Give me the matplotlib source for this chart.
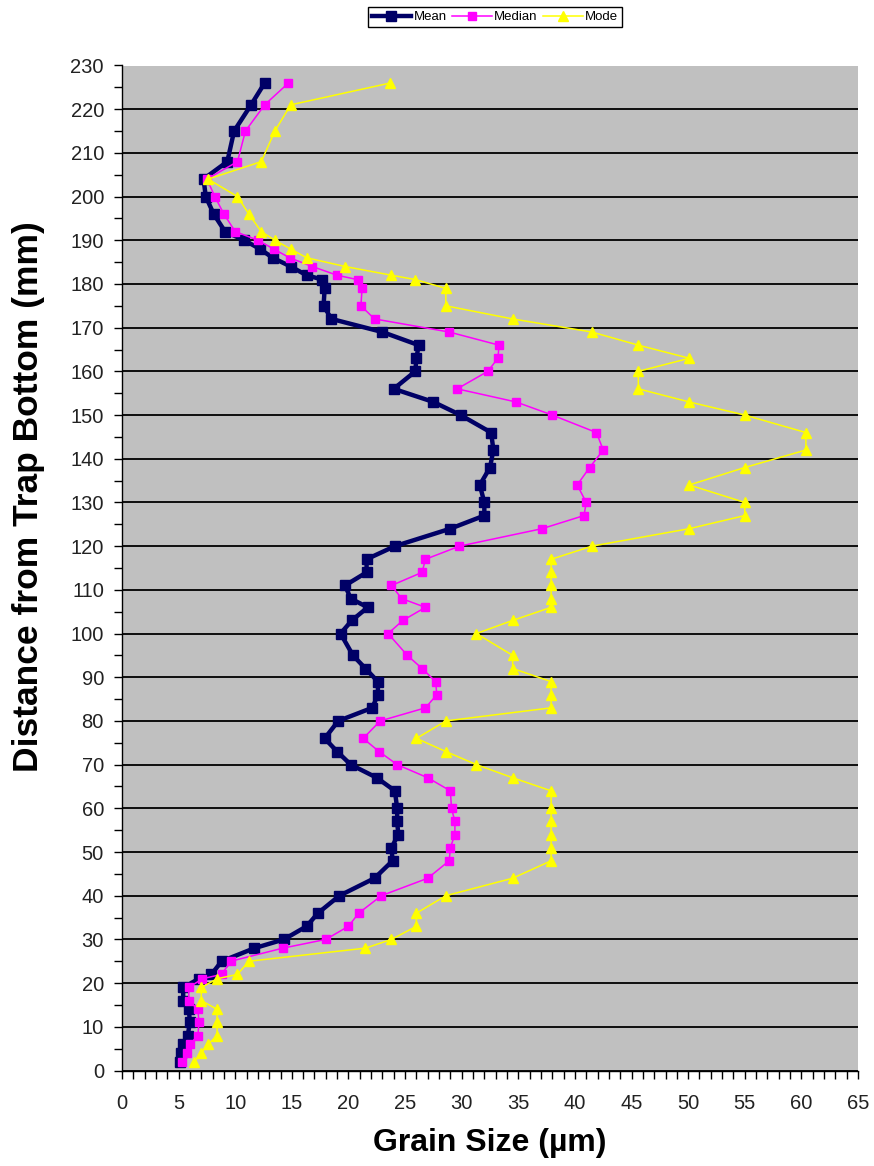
import matplotlib
matplotlib.use("Agg")
import matplotlib.pyplot as plt
from matplotlib.ticker import MultipleLocator

# Sample depths above the trap bottom (mm)
depth_mm = [2, 4, 6, 8, 11, 14, 16, 19, 21, 22, 25, 28, 30, 33, 36, 40, 44, 48,
            51, 54, 57, 60, 64, 67, 70, 73, 76, 80, 83, 86, 89, 92, 95, 100, 103,
            106, 108, 111, 114, 117, 120, 124, 127, 130, 134, 138, 142, 146, 150,
            153, 156, 160, 163, 166, 169, 172, 175, 179, 181, 182, 184, 186, 188,
            190, 192, 196, 200, 204, 208, 215, 221, 226]

# Grain size statistics (µm) for each depth
mean_um = [5.1, 5.2, 5.4, 5.8, 6.0, 5.9, 5.4, 5.4, 6.8, 7.9, 8.8, 11.7, 14.3,
           16.3, 17.3, 19.2, 22.3, 23.9, 23.8, 24.4, 24.3, 24.3, 24.1, 22.5,
           20.2, 19.0, 17.9, 19.1, 22.1, 22.6, 22.6, 21.5, 20.4, 19.3, 20.3,
           21.7, 20.2, 19.7, 21.6, 21.6, 24.1, 29.0, 32.0, 32.0, 31.6, 32.5,
           32.8, 32.6, 29.9, 27.5, 24.0, 25.9, 26.0, 26.2, 23.0, 18.5, 17.8,
           17.9, 17.7, 16.3, 14.9, 13.3, 12.2, 10.8, 9.1, 8.1, 7.4, 7.2, 9.3,
           9.9, 11.4, 12.6]

median_um = [5.3, 5.7, 6.0, 6.7, 6.8, 6.7, 5.9, 5.9, 7.1, 8.8, 9.6, 14.2, 18.0,
             20.0, 20.9, 22.9, 27.0, 28.9, 29.0, 29.4, 29.4, 29.1, 29.0, 27.0,
             24.3, 22.7, 21.3, 22.8, 26.8, 27.8, 27.7, 26.5, 25.2, 23.5, 24.8,
             26.8, 24.7, 23.8, 26.5, 26.8, 29.8, 37.1, 40.8, 41.0, 40.2, 41.3,
             42.5, 41.9, 38.0, 34.8, 29.6, 32.3, 33.2, 33.3, 28.9, 22.3, 21.1,
             21.2, 20.8, 19.0, 16.8, 14.8, 13.4, 12.0, 10.0, 9.0, 8.2, 7.5, 10.2,
             10.9, 12.6, 14.7]

mode_um = [6.4, 7.0, 7.6, 8.4, 8.4, 8.4, 7.0, 7.0, 8.4, 10.2, 11.2, 21.5, 23.8,
           26.0, 26.0, 28.6, 34.5, 37.9, 37.9, 37.9, 37.9, 37.9, 37.9, 34.5,
           31.3, 28.6, 26.0, 28.6, 37.9, 37.9, 37.9, 34.5, 34.5, 31.3, 34.5,
           37.9, 37.9, 37.9, 37.9, 37.9, 41.5, 50.1, 55.0, 55.0, 50.1, 55.0,
           60.4, 60.4, 55.0, 50.1, 45.6, 45.6, 50.1, 45.6, 41.5, 34.5, 28.6,
           28.6, 25.9, 23.8, 19.7, 16.3, 14.9, 13.5, 12.3, 11.2, 10.2, 7.6, 12.3,
           13.5, 14.9, 23.7]

plt.rcParams['font.family'] = ['Liberation Sans', 'DejaVu Sans']

fig = plt.figure(figsize=(8.74, 11.66), dpi=100)
ax = fig.add_axes([122 / 874, 1 - 1070.5 / 1166, 736 / 874, 1005 / 1166])
ax.set_facecolor('#C0C0C0')

ax.plot(mean_um, depth_mm, color='#000066', lw=3.2, marker='s', ms=7.5,
        label='Mean', zorder=3)
ax.plot(median_um, depth_mm, color='#FF00FF', lw=1.1, marker='s', ms=6.2,
        label='Median', zorder=4)
ax.plot(mode_um, depth_mm, color='#FFFF00', lw=1.1, marker='^', ms=7.5,
        label='Mode', zorder=5)

ax.set_xlim(0, 65)
ax.set_ylim(0, 230)
ax.xaxis.set_major_locator(MultipleLocator(5))
ax.xaxis.set_minor_locator(MultipleLocator(1))
ax.yaxis.set_major_locator(MultipleLocator(10))
ax.yaxis.set_minor_locator(MultipleLocator(5))

ax.grid(axis='y', which='major', color='black', lw=1.3)
ax.set_axisbelow(True)

for side in ('top', 'right'):
    ax.spines[side].set_visible(False)
for side in ('left', 'bottom'):
    ax.spines[side].set_color('black')
    ax.spines[side].set_linewidth(1.0)

ax.tick_params(axis='both', which='both', direction='out', length=6,
               width=1.0, color='black', labelsize=14.5, labelcolor='#222222')
ax.tick_params(axis='y', pad=7)
ax.tick_params(axis='x', pad=11)

ax.set_xlabel('Grain Size (µm)', fontsize=23, fontweight='bold', labelpad=11)
ax.set_ylabel('Distance from Trap Bottom (mm)', fontsize=25.5,
              fontweight='bold')
ax.yaxis.set_label_coords((45 - 122) / 736, (1070.5 - 497) / 1005)

fig.legend(loc='center', bbox_to_anchor=(495 / 874, 1 - 17 / 1166), ncol=3,
           frameon=True, fancybox=False, edgecolor='black', framealpha=1,
           fontsize=9.5, handlelength=3.0, columnspacing=0.4,
           handletextpad=0.2, borderpad=0.3, borderaxespad=0)

fig.savefig('out.png', dpi=100, facecolor='white')
